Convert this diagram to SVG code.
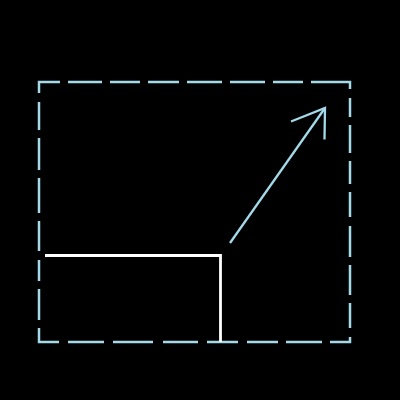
<svg xmlns="http://www.w3.org/2000/svg" width="400" height="400" viewBox="0 0 400 400">
<style>
.frame{fill:none;stroke:#a3d9e8;stroke-width:2.5;stroke-linecap:butt;stroke-linejoin:miter}
.wall{fill:none;stroke:#ffffff;stroke-width:2.8;stroke-linecap:butt;stroke-linejoin:miter}
.arrow{fill:none;stroke:#a3d9e8;stroke-width:2.3;stroke-linecap:butt;stroke-linejoin:miter}
</style>
<rect x="0" y="0" width="400" height="400" fill="#000000"/>
<g id="frame">
<path class="frame" d="M39,93 L39,82 L60,82 M68,82 L102,82 M110,82 L140,82 M148,82 L179,82 M187,82 L222,82 M230,82 L265,82 M273,82 L303,82 M311,82 L350,82 L350,89 M350,98 L350,117 M350,125 L350,153 M350,161 L350,184 M350,192 L350,217 M350,226 L350,257 M350,265 L350,295 M350,303 L350,328 M350,337 L350,342 L330,342 M322,342 L286,342 M278,342 L247,342 M238,342 L207,342 M198,342 L163,342 M153,342 L113,342 M104,342 L68,342 M59,342 L39,342 L39,328 M39,320 L39,289 M39,281 L39,260 M39,251 L39,221 M39,213 L39,178 M39,170 L39,138 M39,130 L39,102"/>
</g>
<g id="wall">
<path class="wall" d="M45,255.5 L220.5,255.5 L220.5,342"/>
</g>
<g id="connectors">
<path class="arrow" d="M230,243 L325,108"/>
<path class="arrow" d="M291,121.5 L325,108 L324.5,139.5"/>
</g>
</svg>
